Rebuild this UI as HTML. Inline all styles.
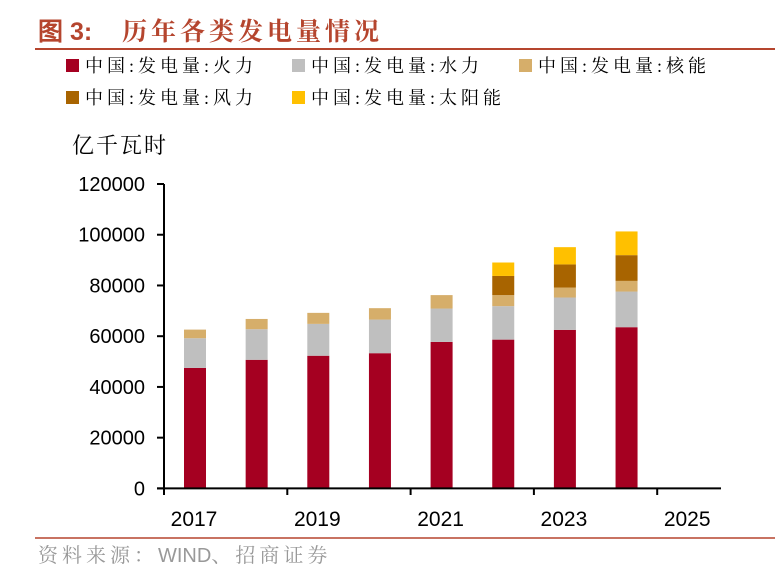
<!DOCTYPE html>
<html><head><meta charset="utf-8"><style>
body{margin:0;width:783px;height:579px;background:#fff;overflow:hidden;font-family:"Liberation Sans","Noto Sans CJK SC",sans-serif;}
.serif{font-family:"Liberation Serif","Noto Serif CJK SC",serif;}
</style></head><body>
<svg width="783" height="579">
<text x="38" y="40" font-size="25" font-weight="bold" fill="#b5452e"><tspan font-family="Liberation Sans, sans-serif">图 3:</tspan><tspan x="122" class="serif" letter-spacing="4">历年各类发电量情况</tspan></text>
<line x1="35" y1="49" x2="775" y2="49" stroke="#b5452e" stroke-width="2"/>
<g id="legend"></g>
<text x="72" y="153" font-size="22" letter-spacing="2" class="serif" fill="#000">亿千瓦时</text>
<g id="plot"></g>
<line x1="35" y1="538" x2="775" y2="538" stroke="#b5452e" stroke-width="1.5"/>
<text x="38" y="562" font-size="20" class="serif" fill="#999"><tspan letter-spacing="4">资料来源：</tspan><tspan font-family="Liberation Sans, sans-serif">WIND</tspan><tspan letter-spacing="4">、招商证券</tspan></text>
</svg>
<script>
const years=[2017,2018,2019,2020,2021,2022,2023,2024];
const thermal=[47500,50700,52300,53300,57750,58650,62500,63550];
const hydro=[11700,12050,12550,13250,13150,13200,12750,14050];
const nuclear=[3400,4050,4350,4500,5300,4350,3950,4200];
const wind=[0,0,0,0,0,7550,9100,10150];
const solar=[0,0,0,0,0,5300,6800,9350];
const yTicks=[0,20000,40000,60000,80000,100000,120000];
const xTickYears=[2017,2019,2021,2023,2025];
const seriesNames=["中国:发电量:火力","中国:发电量:水力","中国:发电量:核能","中国:发电量:风力","中国:发电量:太阳能"];
const colors=["#a50021","#bfbfbf","#d6ae6a","#a86400","#ffc000"];
const NS="http://www.w3.org/2000/svg";
function mk(t,a,p){const e=document.createElementNS(NS,t);for(const k in a)e.setAttribute(k,a[k]);p.appendChild(e);return e;}
const y=v=>488.4-v*(304.4/120000);
const x=yr=>164+(yr-2017)*61.65;
const plot=document.getElementById('plot');
const leg=document.getElementById('legend');
const legPos=[[66,70],[292,70],[519,70],[66,102],[292,102]];
seriesNames.forEach((n,i)=>{
 const r=mk('rect',{x:legPos[i][0],y:legPos[i][1]-11,width:13,height:13,fill:colors[i]},leg);
 
 
 const t=mk('text',{x:legPos[i][0]+19,y:legPos[i][1]+2,'font-size':18,'letter-spacing':4,'class':'serif',fill:'#000'},leg);
 t.textContent=n;
 
 
});
const series=[thermal,hydro,nuclear,wind,solar];
years.forEach((yr,i)=>{
 let base=0;
 series.forEach((s,k)=>{
  const v=s[i]; if(!v) return;
  const r=mk('rect',{x:x(yr)+31-11,y:y(base+v),width:22,height:y(base)-y(base+v),fill:colors[k]},plot);
  
  
  base+=v;
 });
});
const ya=mk('line',{x1:164,y1:y(120000),x2:164,y2:488.4,stroke:'#000','stroke-width':2},plot);


yTicks.forEach(v=>{
 mk('line',{x1:157,y1:y(v),x2:164,y2:y(v),stroke:'#000','stroke-width':2},plot);
 const t=mk('text',{x:145,y:y(v)+7,'font-size':20,'text-anchor':'end',fill:'#000'},plot);
 t.textContent=v;
 
 
});
const xa=mk('line',{x1:157,y1:488.4,x2:721,y2:488.4,stroke:'#000','stroke-width':2},plot);


xTickYears.forEach(yr=>{
 mk('line',{x1:x(yr),y1:488.4,x2:x(yr),y2:495,stroke:'#000','stroke-width':2},plot);
 const t=mk('text',{x:x(yr)+30,y:526,'font-size':21,'text-anchor':'middle',fill:'#000'},plot);
 t.textContent=yr;
 
 
});
</script>
</body></html>
